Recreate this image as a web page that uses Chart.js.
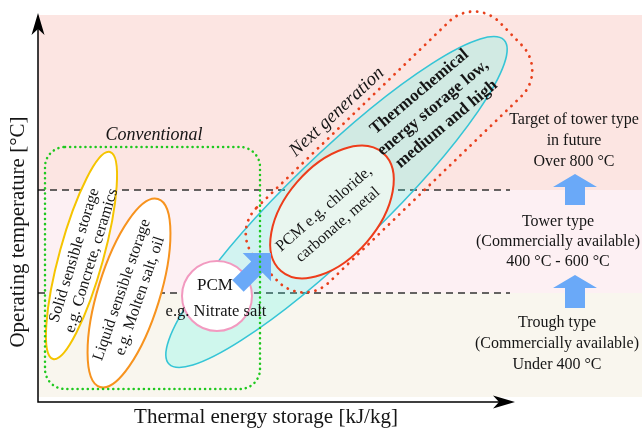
<!DOCTYPE html>
<html><head><meta charset="utf-8">
<script src="https://cdn.jsdelivr.net/npm/chart.js@4.4.1/dist/chart.umd.min.js"></script>
<style>html,body{margin:0;padding:0;background:#fff}#wrap{width:642px;height:428px;position:relative}</style>
</head><body><div id="wrap"><canvas id="c"></canvas></div>
<script>
// Axis space: x = thermal energy storage (arbitrary units), y = operating temperature (arbitrary units)
// Temperature bands (bottom → top): trough, tower, future target
const bandLevels = [5, 109, 212, 387];
const bandColors = ['#f9f6ee', '#fdf0f3', '#fce5e2'];
const bandEnergyMax = 604;
const thresholdLevels = [109, 212];     // 400 °C and 600 °C
const thresholdEnergyMax = 472;

// Storage technologies: low end and high end (energy, temperature), and spread
const techNames  = ['solid', 'liquid', 'thermo', 'pcmHigh'];
const techLowEnd  = [[15, 43], [62, 15], [131, 38], [243, 131]];
const techHighEnd = [[72, 250], [120, 203], [466, 362], [345, 249]];
const techSpread  = [22, 31, 47, 46];

// PCM (nitrate salt)
const pcmCenter = [179, 106];
const pcmRadius = 35;

// Groups
const conventionalBox = [7, 13, 222, 255];           // energy min, temp min, energy max, temp max
const nextGenEnds = [[229, 132], [473, 368]];
const nextGenWidth = 104;

// Progress arrows (tail → tip)
const arrowTails = [[537, 94], [537, 197], [200, 116]];
const arrowTips  = [[537, 127], [537, 228], [233, 149]];

// Axis extents
const xAxisEnd = 477;
const yAxisEnd = 389;

// Labels
const labelTexts = [
  ['Conventional'],
  ['Next generation'],
  ['Thermochemical', 'energy storage low,', 'medium and high'],
  ['PCM e.g. chloride,', 'carbonate, metal'],
  ['Solid sensible storage', 'e.g. Concrete, ceramics'],
  ['Liquid sensible storage', 'e.g. Molten salt, oil'],
  ['PCM'],
  ['e.g. Nitrate salt'],
  ['Target of tower type', 'in future', 'Over 800 °C'],
  ['Tower type', '(Commercially available)', '400 °C - 600 °C'],
  ['Trough type', '(Commercially available)', 'Under 400 °C'],
  ['Thermal energy storage [kJ/kg]'],
  ['Operating temperature [°C]']
];
const labelAnchors = [[116, 267], [299, 290], [395, 294], [293, 185], [45, 144], [93, 109],
  [177, 116], [178, 90], [536, 261], [520, 160], [519, 58], [228, -15], [-20, 170]];

const SERIF = "'Liberation Serif','Times New Roman',serif";
const labelStyle = [
  {font: 'italic 18px ' + SERIF, angle: 0, lh: 20},
  {font: 'italic 19px ' + SERIF, angle: -43, lh: 20},
  {font: 'bold 17px ' + SERIF, angle: -40, lh: 21},
  {font: '16px ' + SERIF, angle: -41, lh: 21},
  {font: '16px ' + SERIF, angle: -73, lh: 18},
  {font: '16px ' + SERIF, angle: -71, lh: 19},
  {font: '17px ' + SERIF, angle: 0, lh: 20},
  {font: '16.5px ' + SERIF, angle: 0, lh: 20},
  {font: '16px ' + SERIF, angle: 0, lh: 21},
  {font: '16px ' + SERIF, angle: 0, lh: 20},
  {font: '16px ' + SERIF, angle: 0, lh: 21},
  {font: '21px ' + SERIF, angle: 0, lh: 24},
  {font: '21px ' + SERIF, angle: -90, lh: 24}
];

const techStyle = {
  solid:   {fill: '#ffffff', stroke: '#f5c400', w: 2},
  liquid:  {fill: '#ffffff', stroke: '#f7931e', w: 2},
  thermo:  {fill: 'rgba(40,255,235,0.2)', stroke: '#35c5d6', w: 1.6},
  pcmHigh: {fill: '#e9f6ef', stroke: '#ee3d1b', w: 2}
};

function diagramPlugin() {
  let X, Y, S;
  function setup(chart) {
    const xs = chart.scales.x, ys = chart.scales.y;
    X = v => xs.getPixelForValue(v);
    Y = v => ys.getPixelForValue(v);
    S = d => xs.getPixelForValue(d) - xs.getPixelForValue(0);
  }
  function ellipse(ctx, lo, hi, spread) {
    const x1 = X(lo[0]), y1 = Y(lo[1]), x2 = X(hi[0]), y2 = Y(hi[1]);
    const cx = (x1 + x2) / 2, cy = (y1 + y2) / 2;
    const rx = Math.hypot(x2 - x1, y2 - y1) / 2;
    const ang = Math.atan2(y2 - y1, x2 - x1);
    ctx.beginPath();
    ctx.ellipse(cx, cy, rx, S(spread), ang, 0, Math.PI * 2);
  }
  function roundRectPath(ctx, x, y, w, h, r) {
    ctx.moveTo(x + r, y);
    ctx.lineTo(x + w - r, y);
    ctx.arcTo(x + w, y, x + w, y + r, r);
    ctx.lineTo(x + w, y + h - r);
    ctx.arcTo(x + w, y + h, x + w - r, y + h, r);
    ctx.lineTo(x + r, y + h);
    ctx.arcTo(x, y + h, x, y + h - r, r);
    ctx.lineTo(x, y + r);
    ctx.arcTo(x, y, x + r, y, r);
    ctx.closePath();
  }
  function blockArrow(ctx, tail, tip, sw, hw, hl) {
    const x1 = X(tail[0]), y1 = Y(tail[1]), x2 = X(tip[0]), y2 = Y(tip[1]);
    const len = Math.hypot(x2 - x1, y2 - y1), ang = Math.atan2(y2 - y1, x2 - x1);
    ctx.save();
    ctx.translate(x1, y1); ctx.rotate(ang);
    ctx.beginPath();
    ctx.moveTo(0, -sw / 2); ctx.lineTo(len - hl, -sw / 2); ctx.lineTo(len - hl, -hw / 2);
    ctx.lineTo(len, 0); ctx.lineTo(len - hl, hw / 2); ctx.lineTo(len - hl, sw / 2); ctx.lineTo(0, sw / 2);
    ctx.closePath(); ctx.fill();
    ctx.restore();
  }
  function stealthHead(ctx, x, y, ang) {
    ctx.save(); ctx.translate(x, y); ctx.rotate(ang);
    ctx.beginPath();
    ctx.moveTo(0, 0); ctx.lineTo(-22, -6.5); ctx.lineTo(-16, 0); ctx.lineTo(-22, 6.5); ctx.closePath();
    ctx.fill(); ctx.restore();
  }
  function text(ctx, lines, anchor, st) {
    ctx.save();
    ctx.translate(X(anchor[0]), Y(anchor[1]));
    ctx.rotate(st.angle * Math.PI / 180);
    ctx.font = st.font; ctx.fillStyle = '#151515';
    ctx.textAlign = 'center'; ctx.textBaseline = 'middle';
    const n = lines.length;
    lines.forEach((l, i) => ctx.fillText(l, 0, (i - (n - 1) / 2) * st.lh));
    ctx.restore();
  }
  return {
    id: 'diagram',
    beforeDatasetsDraw(chart) {
      setup(chart);
      const ctx = chart.ctx;
      ctx.save();
      for (let i = 0; i < bandColors.length; i++) {
        ctx.fillStyle = bandColors[i];
        const top = Y(bandLevels[i + 1]), bot = Y(bandLevels[i]);
        ctx.fillRect(X(0), top, X(bandEnergyMax) - X(0), bot - top);
      }
      ctx.restore();
    },
    afterDatasetsDraw(chart) {
      setup(chart);
      const ctx = chart.ctx;
      ctx.save();
      // thermochemical ellipse (translucent)
      const ti = techNames.indexOf('thermo');
      ellipse(ctx, techLowEnd[ti], techHighEnd[ti], techSpread[ti]);
      ctx.fillStyle = techStyle.thermo.fill; ctx.fill();
      ctx.strokeStyle = techStyle.thermo.stroke; ctx.lineWidth = techStyle.thermo.w; ctx.stroke();
      // next-generation dotted outline
      {
        const e1 = nextGenEnds[0], e2 = nextGenEnds[1];
        const x1 = X(e1[0]), y1 = Y(e1[1]), x2 = X(e2[0]), y2 = Y(e2[1]);
        const len = Math.hypot(x2 - x1, y2 - y1), ang = Math.atan2(y2 - y1, x2 - x1);
        const w = S(nextGenWidth);
        ctx.save();
        ctx.translate((x1 + x2) / 2, (y1 + y2) / 2); ctx.rotate(ang);
        ctx.beginPath(); roundRectPath(ctx, -len / 2, -w / 2, len, w, 36);
        ctx.restore();
        ctx.setLineDash([0.1, 7]); ctx.lineCap = 'round';
        ctx.strokeStyle = '#e8401c'; ctx.lineWidth = 2.8; ctx.stroke();
        ctx.setLineDash([]); ctx.lineCap = 'butt';
      }
      // other ellipses
      techNames.forEach((nm, i) => {
        if (nm === 'thermo') return;
        const st = techStyle[nm];
        ellipse(ctx, techLowEnd[i], techHighEnd[i], techSpread[i]);
        ctx.fillStyle = st.fill; ctx.fill();
        ctx.strokeStyle = st.stroke; ctx.lineWidth = st.w; ctx.stroke();
      });
      // PCM circle
      ctx.beginPath(); ctx.arc(X(pcmCenter[0]), Y(pcmCenter[1]), S(pcmRadius), 0, Math.PI * 2);
      ctx.fillStyle = '#ffffff'; ctx.fill();
      ctx.strokeStyle = '#f29ac0'; ctx.lineWidth = 2; ctx.stroke();
      // arrows
      ctx.fillStyle = '#6aa9f8';
      blockArrow(ctx, arrowTails[0], arrowTips[0], 20, 44, 13);
      blockArrow(ctx, arrowTails[1], arrowTips[1], 20, 44, 13);
      blockArrow(ctx, arrowTails[2], arrowTips[2], 16, 40, 20);
      // conventional dotted box
      ctx.beginPath();
      {
        const l = X(conventionalBox[0]), b = Y(conventionalBox[1]), r = X(conventionalBox[2]), t = Y(conventionalBox[3]);
        roundRectPath(ctx, l, t, r - l, b - t, 20);
      }
      ctx.setLineDash([0.1, 5]); ctx.lineCap = 'round';
      ctx.strokeStyle = '#1fc81f'; ctx.lineWidth = 2.5; ctx.stroke();
      ctx.setLineDash([]); ctx.lineCap = 'butt';
      // axes
      ctx.strokeStyle = '#000'; ctx.fillStyle = '#000'; ctx.lineWidth = 1.5;
      ctx.beginPath();
      ctx.moveTo(X(0), Y(0)); ctx.lineTo(X(0), Y(yAxisEnd) + 14);
      ctx.moveTo(X(0) - 0.75, Y(0)); ctx.lineTo(X(xAxisEnd) - 14, Y(0));
      ctx.stroke();
      stealthHead(ctx, X(0), Y(yAxisEnd), -Math.PI / 2);
      stealthHead(ctx, X(xAxisEnd), Y(0), 0);
      // labels
      labelTexts.forEach((lines, i) => text(ctx, lines, labelAnchors[i], labelStyle[i]));
      ctx.restore();
    }
  };
}

const thresholdSets = thresholdLevels.map(lv => ({
  data: [{x: 0, y: lv}, {x: thresholdEnergyMax, y: lv}],
  showLine: true, borderColor: '#333', borderWidth: 1.4, borderDash: [7, 5],
  pointRadius: 0, fill: false
}));

new Chart(document.getElementById('c'), {
  type: 'scatter',
  data: {datasets: thresholdSets},
  options: {
    responsive: true, maintainAspectRatio: false, animation: false, events: [],
    layout: {padding: {left: 38, top: 15, right: 0, bottom: 26}},
    scales: {
      x: {type: 'linear', min: 0, max: 604, display: false},
      y: {type: 'linear', min: 0, max: 387, display: false}
    },
    plugins: {legend: {display: false}, tooltip: {enabled: false}}
  },
  plugins: [diagramPlugin()]
});
</script></body></html>
